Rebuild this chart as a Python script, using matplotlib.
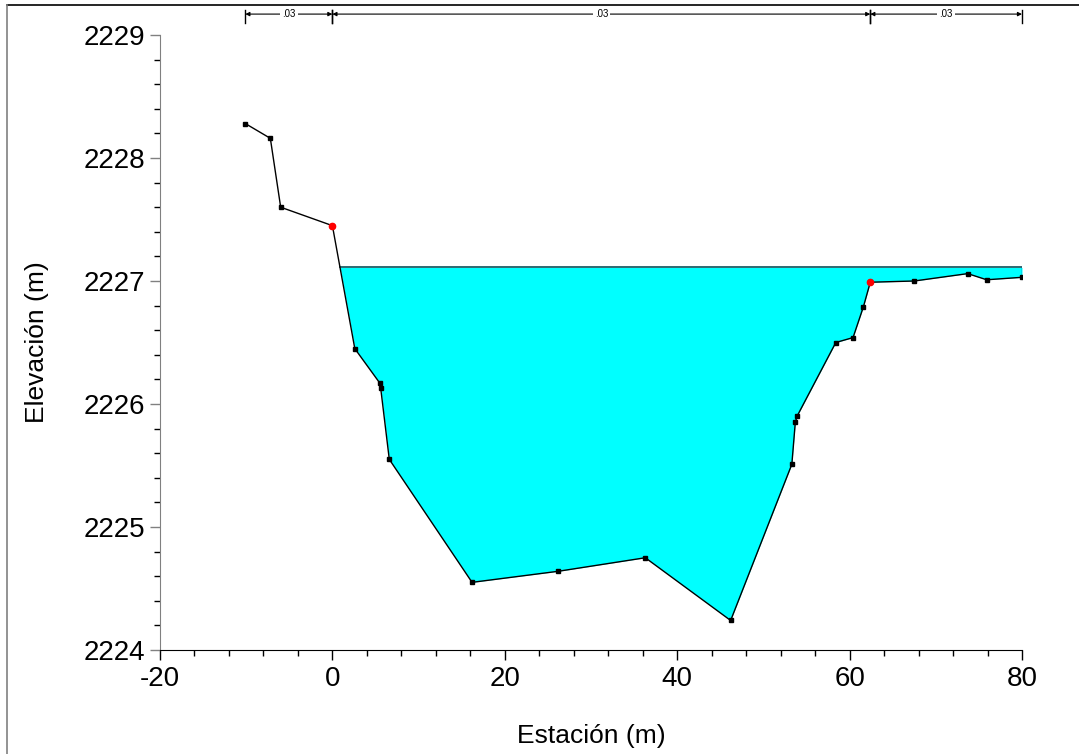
import matplotlib

matplotlib.use("Agg")
import matplotlib.pyplot as plt
import numpy as np
from matplotlib.lines import Line2D
from matplotlib.ticker import MultipleLocator

plt.rcParams["font.family"] = ["Liberation Sans", "DejaVu Sans"]
plt.rcParams["axes.unicode_minus"] = False

# perfil del terreno (estacion, elevacion)
estacion = [-10.1, -7.2, -6.0, 0.0, 2.6, 5.5, 5.6, 6.6, 16.2, 26.2, 36.3, 46.2,
            53.3, 53.7, 53.9, 58.4, 60.4, 61.6, 62.4, 67.5, 73.7, 75.9, 80.0]
elevacion = [2228.28, 2228.16, 2227.60, 2227.45, 2226.45, 2226.17, 2226.13, 2225.55,
             2224.55, 2224.64, 2224.75, 2224.24, 2225.51, 2225.85, 2225.90, 2226.50,
             2226.54, 2226.79, 2226.99, 2227.00, 2227.06, 2227.01, 2227.03]

# orillas (puntos rojos)
orillas_x = [0.0, 62.4]
orillas_y = [2227.45, 2226.99]

nivel_agua = 2227.11

# tramos de rugosidad de Manning
tramos = [(-10.1, 0.0), (0.0, 62.4), (62.4, 80.0)]
valores_n = [".03", ".03", ".03"]


def main():
    fig = plt.figure(figsize=(10.79, 7.54), dpi=100)
    ax = fig.add_axes([160 / 1079, 1 - 650 / 754, 862 / 1079, 615 / 754])

    x = np.array(estacion)
    y = np.array(elevacion)

    # relleno del agua
    ax.fill_between(x, y, nivel_agua, where=y <= nivel_agua, interpolate=True,
                    color="#00ffff", linewidth=0, zorder=1)
    x_ini = np.interp(nivel_agua, y[3:5][::-1], x[3:5][::-1])
    ax.plot([x_ini, 80.0], [nivel_agua, nivel_agua], color="#1b5e66", lw=1.3, zorder=2)
    ax.plot([80.0, 80.0], [elevacion[-1], nivel_agua], color="#1b3f8f", lw=1.0, zorder=2)

    ax.plot(x, y, color="black", lw=1.0, zorder=3)
    ax.plot(x, y, "s", color="black", ms=3.2, zorder=4)
    ax.plot(orillas_x, orillas_y, "o", color="red", ms=4.5, zorder=5)

    ax.set_xlim(-20, 80)
    ax.set_ylim(2224, 2229)
    ax.xaxis.set_major_locator(MultipleLocator(20))
    ax.xaxis.set_minor_locator(MultipleLocator(4))
    ax.yaxis.set_major_locator(MultipleLocator(1))
    ax.yaxis.set_minor_locator(MultipleLocator(0.2))

    for lado in ["top", "right"]:
        ax.spines[lado].set_visible(False)
    ax.spines["left"].set_color("#808080")
    ax.spines["bottom"].set_color("black")

    ax.tick_params(axis="both", which="major", direction="out", length=7.5,
                   width=1.0, labelsize=20, pad=3)
    ax.tick_params(axis="both", which="minor", direction="out", length=4.5, width=1.0)
    ax.tick_params(axis="y", colors="#808080", labelcolor="black")
    ax.tick_params(axis="x", which="major", pad=4)

    ax.set_xlabel("Estación (m)", fontsize=19, labelpad=23)
    ax.set_ylabel("Elevación (m)", fontsize=19, labelpad=25)

    # anotaciones de n de Manning
    trans = ax.get_xaxis_transform()
    for (xa, xb), n in zip(tramos, valores_n):
        for xv in (xa, xb):
            ax.plot([xv, xv], [1.020, 1.041], color="black", lw=1.0,
                    transform=trans, clip_on=False)
        ax.annotate("", xy=(xa, 1.034), xytext=(xb, 1.034), xycoords=trans,
                    textcoords=trans,
                    arrowprops=dict(arrowstyle="<|-|>", color="black", lw=0.8,
                                    mutation_scale=6, shrinkA=0, shrinkB=0))
        ax.text((xa + xb) / 2, 1.034, n, transform=trans, fontsize=7,
                ha="center", va="center",
                bbox=dict(facecolor="white", edgecolor="none", pad=1.5))

    # marco de la figura
    fig.add_artist(Line2D([7 / 1079, 1.0], [1 - 5 / 754, 1 - 5 / 754],
                          color="black", lw=1.2, transform=fig.transFigure))
    fig.add_artist(Line2D([7 / 1079, 7 / 1079], [0.0, 1 - 5 / 754],
                          color="#808080", lw=1.2, transform=fig.transFigure))

    fig.savefig("out.png", dpi=100)
    plt.close(fig)


if __name__ == "__main__":
    main()
